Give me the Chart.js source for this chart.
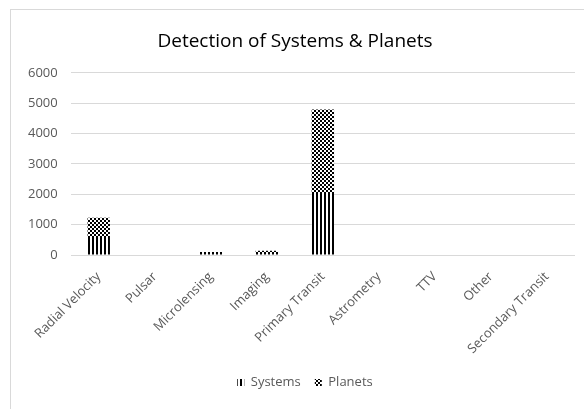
<!DOCTYPE html>
<html>
<head>
<meta charset="utf-8">
<script src="https://cdn.jsdelivr.net/npm/chart.js@4"></script>
<style>
  html, body { margin: 0; padding: 0; background: #fff; overflow: hidden; }
  #wrap { position: relative; width: 584px; height: 409px; overflow: hidden; }
  #frame { position: absolute; left: 10px; top: 9px; width: 640px; height: 420px;
           border-left: 1px solid #d9d9d9; border-top: 1px solid #d9d9d9; }
  canvas { position: absolute; left: 0; top: 0; }
</style>
</head>
<body>
<div id="wrap">
  <div id="frame"></div>
  <canvas id="chart" width="584" height="409"></canvas>
</div>
<script>
const methods = ['Radial Velocity', 'Pulsar', 'Microlensing', 'Imaging', 'Primary Transit',
  'Astrometry', 'TTV', 'Other', 'Secondary Transit'];
const systems = [560, 0, 30, 30, 2045, 0, 0, 0, 0];
const planets = [670, 0, 70, 110, 2745, 0, 0, 0, 0];
const yTicks = [0, 1000, 2000, 3000, 4000, 5000, 6000];

// little tiles for the Excel-like fill patterns
function stripes() {
  const c = document.createElement('canvas');
  c.width = 4; c.height = 4;
  const g = c.getContext('2d');
  g.fillStyle = '#fff'; g.fillRect(0, 0, 4, 4);
  g.fillStyle = '#000'; g.fillRect(0, 0, 2, 4);
  return g.createPattern(c, 'repeat');
}
function checks() {
  const c = document.createElement('canvas');
  c.width = 4; c.height = 4;
  const g = c.getContext('2d');
  g.fillStyle = '#fff'; g.fillRect(0, 0, 4, 4);
  g.fillStyle = '#000';
  g.fillRect(0, 0, 2, 2);
  g.fillRect(2, 2, 2, 2);
  return g.createPattern(c, 'repeat');
}

// excel puts the legend a bit right of centre
const legendShift = {
  id: 'legendShift',
  afterLayout(chart) {
    chart.legend.left += 10;
    chart.legend.right += 10;
  }
};

const ctx = document.getElementById('chart').getContext('2d');
new Chart(ctx, {
  type: 'bar',
  data: {
    labels: methods,
    datasets: [
      { label: 'Systems', data: systems, backgroundColor: stripes(), borderWidth: 0 },
      { label: 'Planets', data: planets, backgroundColor: checks(), borderWidth: 0 }
    ]
  },
  options: {
    responsive: false,
    animation: false,
    layout: { padding: { left: 15, right: 9, top: 30, bottom: 10 } },
    datasets: { bar: { categoryPercentage: 1, barPercentage: 0.4 } },
    scales: {
      x: {
        stacked: true,
        grid: { display: false },
        border: { display: false },
        afterFit: axis => { axis.height = 107; },
        ticks: {
          color: '#595959',
          font: { family: 'Open Sans', size: 13 },
          minRotation: 45, maxRotation: 45,
          padding: 6
        }
      },
      y: {
        stacked: true,
        min: 0, max: 6000,
        afterBuildTicks: axis => { axis.ticks = yTicks.map(v => ({ value: v })); },
        grid: { color: '#d9d9d9', drawTicks: false },
        border: { display: false },
        ticks: {
          color: '#595959',
          font: { family: 'Open Sans', size: 13 },
          padding: 13,
          callback: v => String(v)
        }
      }
    },
    plugins: {
      title: {
        display: true,
        text: 'Detection of Systems & Planets',
        color: '#000',
        font: { family: 'Open Sans', size: 19, weight: 'normal' },
        padding: { top: 0, bottom: 20 }
      },
      legend: {
        position: 'bottom',
        labels: {
          color: '#595959',
          font: { family: 'Open Sans', size: 13 },
          boxWidth: 7, boxHeight: 7,
          padding: 14
        }
      },
      tooltip: { enabled: false }
    }
  },
  plugins: [legendShift]
});
</script>
</body>
</html>
